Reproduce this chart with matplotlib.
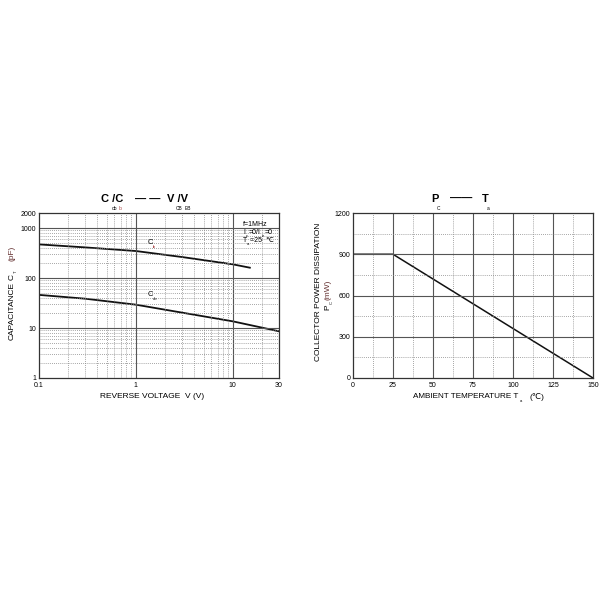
import numpy as np
import matplotlib
matplotlib.use("Agg")
import matplotlib.pyplot as plt
from matplotlib.ticker import FixedLocator, NullFormatter

plt.rcParams['font.family'] = ['Liberation Sans', 'DejaVu Sans']

# ===================== 数据 =====================
# 左图: 电容 - 反向电压
v_ib = [0.1, 0.3, 1, 3, 10, 15]
c_ib = [471, 410, 347, 263, 188, 161]
v_ob = [0.1, 0.3, 1, 3, 10, 30]
c_ob = [46, 38.6, 29.3, 20.3, 13.6, 8.6]
cap_xticks = [0.1, 1, 10, 30]
cap_xlabels = ['0.1', '1', '10', '30']
cap_yticks = [1, 10, 100, 1000, 2000]
cap_ylabels = ['1', '10', '100', '1000', '2000']

# 右图: 功耗 - 环境温度
ta = [0, 25, 150]
pc = [900, 900, 0]
pc_xticks = [0, 25, 50, 75, 100, 125, 150]
pc_yticks = [0, 300, 600, 900, 1200]

W = H = 600.0


def px(x, y):
    return x / W, 1 - y / H


fig = plt.figure(figsize=(6, 6), dpi=100)

grid_major = dict(color='#555555', lw=0.8, ls='-')
grid_minor = dict(color='#888888', lw=0.6, ls=(0, (1, 1.5)))

# ===================== 左图 =====================
ax1 = fig.add_axes([39 / W, 1 - 378 / H, 240 / W, 165 / H])
ax1.set_xscale('log')
ax1.set_yscale('log')
ax1.set_xlim(0.1, 30)
ax1.set_ylim(1, 2000)
ax1.plot(v_ib, c_ib, color='#111111', lw=1.3)
ax1.plot(v_ob, c_ob, color='#111111', lw=1.3)
ax1.xaxis.set_major_locator(FixedLocator(cap_xticks))
ax1.set_xticklabels(cap_xlabels)
ax1.yaxis.set_major_locator(FixedLocator(cap_yticks))
ax1.set_yticklabels(cap_ylabels)
xminor = [m * 10.0 ** d for d in (-1, 0, 1) for m in range(2, 10) if m * 10.0 ** d < 30]
yminor = [m * 10.0 ** d for d in (0, 1, 2) for m in range(2, 10)]
for v in [1, 10]:
    ax1.axvline(v, **grid_major)
for v in xminor:
    ax1.axvline(v, **grid_minor)
for v in [10, 100, 1000]:
    ax1.axhline(v, **grid_major)
for v in yminor:
    ax1.axhline(v, **grid_minor)
ax1.xaxis.set_minor_formatter(NullFormatter())
ax1.yaxis.set_minor_formatter(NullFormatter())
ax1.tick_params(which='both', length=0, labelsize=5, pad=2)
ax1.tick_params(axis='x', pad=3)

# ===================== 右图 =====================
ax2 = fig.add_axes([353 / W, 1 - 378 / H, 240 / W, 165 / H])
ax2.set_xlim(0, 150)
ax2.set_ylim(0, 1200)
ax2.plot(ta, pc, color='#111111', lw=1.1)
ax2.set_xticks(pc_xticks)
ax2.set_yticks(pc_yticks)
for v in pc_xticks[1:-1]:
    ax2.axvline(v, **grid_major)
for v in np.arange(12.5, 150, 25):
    ax2.axvline(v, **grid_minor)
for v in pc_yticks[1:-1]:
    ax2.axhline(v, **grid_major)
for v in np.arange(150, 1200, 300):
    ax2.axhline(v, **grid_minor)
ax2.tick_params(which='both', length=0, labelsize=5, pad=2)
ax2.tick_params(axis='x', pad=3)

for ax in (ax1, ax2):
    for s in ax.spines.values():
        s.set_color('#333333')
        s.set_linewidth(0.9)
    ax.set_axisbelow(False)

# ===================== 文字 =====================
def t(x, y, s, size=6, **kw):
    fx, fy = px(x, y)
    fig.text(fx, fy, s, fontsize=size, va='center', **kw)


def tv(x, y, s, size=6, **kw):
    fx, fy = px(x, y)
    fig.text(fx, fy, s, fontsize=size, rotation=90, ha='center', va='center', **kw)


# 左图标题
t(101, 199, 'C /C', 8, weight='bold')
t(112, 208, 'ob', 3.5)
t(119, 208, 'ib', 3.5, color='#aa4444')
t(135, 199, '— —', 8, weight='bold')
t(167, 199, 'V /V', 8, weight='bold')
t(176, 208, 'CB', 3.5)
t(185, 208, 'EB', 3.5)

# 条件
t(243, 225, 'f=1MHz', 5)
t(243, 233, 'I', 5)
t(246, 236, 'c', 3)
t(249, 233, '=0/I', 5)
t(262, 236, 'e', 3)
t(265, 233, '=0', 5)
t(243, 241, 'T', 5)
t(247, 244, 'a', 3)
t(250, 241, '=25  \u2103', 5)

# 曲线标注
t(148, 242, 'C', 5.5)
t(153, 247, 'ib', 3, color='#aa4444')
t(148, 294, 'C', 5.5)
t(153, 299, 'ob', 3)

t(152, 396, 'REVERSE VOLTAGE  V (V)', 6, ha='center')
tv(12, 311, 'CAPACITANCE', 6)
tv(12, 277, 'C', 6)
tv(16, 272, 'T', 3)
tv(12, 253, '(pF)', 6, color='#663333')

# 右图标题
t(431, 199, 'P', 8, weight='bold')
t(437, 208, 'C', 3.5)
t(450, 199, '——', 8, weight='bold')
t(482, 199, 'T', 8, weight='bold')
t(487, 208, 'a', 3.5)

t(413, 397, 'AMBIENT TEMPERATURE T', 5.9)
t(520, 401, 'a', 3)
t(530, 397, '(\u2103)', 6)
tv(318, 292, 'COLLECTOR POWER DISSIPATION', 6)
tv(328, 307, 'P', 6)
tv(332, 302, 'C', 3)
tv(328, 290, '(mW)', 6, color='#663333')

fig.savefig('out.png', dpi=100, facecolor='white')
